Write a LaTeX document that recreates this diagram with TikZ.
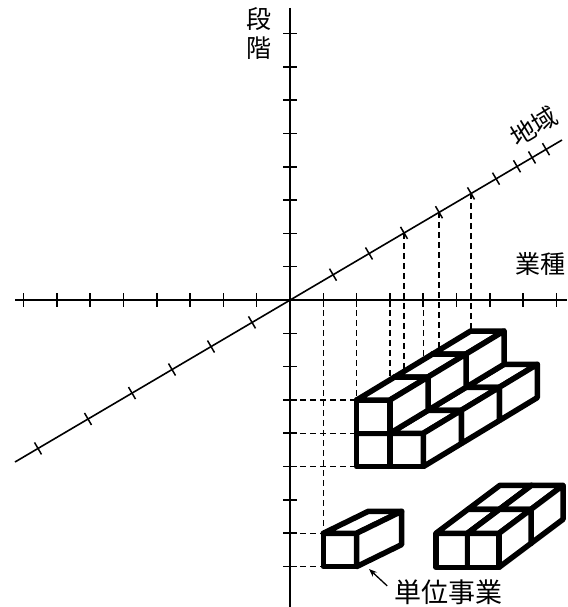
\documentclass[tikz,border=0pt]{standalone}
\usepackage{fontspec}
\newfontfamily\cjk{Noto Sans CJK JP}
\usepackage{tikz}
\usetikzlibrary{arrows.meta}

\tikzset{
  axisline/.style={line width=1.6pt},
  tickmark/.style={line width=1.5pt},
  guide/.style={line width=1.3pt, dash pattern=on 6pt off 4pt},
  brickline/.style={line width=5.5pt, line join=round, fill=white, draw=black},
  axislabel/.style={font=\cjk\fontsize{25}{29}\selectfont, inner sep=0pt},
}

% one block: front corner x, y, width, height, depth dx, dy
\newcommand{\brick}[6]{%
  \filldraw[brickline] (#1,#2) rectangle ++(#3,#4);
  \filldraw[brickline] (#1,#2) -- ++(#5,#6) -- ++(#3,0) -- ++({-1*(#5)},{-1*(#6)}) -- cycle;
  \filldraw[brickline] ({#1+#3},#2) -- ++(#5,#6) -- ++(0,#4) -- ++({-1*(#5)},{-1*(#6)}) -- cycle;
}

\begin{document}
\begin{tikzpicture}[x=1pt,y=-1pt]
\useasboundingbox (0,0) rectangle (567,607);

% axes
\draw[axisline] (290,8) -- (290,607);
\draw[axisline] (15,300) -- (567,300);
\draw[axisline] (15,462) -- (562,140);

% ticks
\foreach \k in {1,...,8} {
  \draw[tickmark] ({290+33.3*\k},293) -- ++(0,14);
  \draw[tickmark] ({290-33.3*\k},293) -- ++(0,14);
  \draw[tickmark] (283,{300+33.3*\k}) -- ++(14,0);
  \draw[tickmark] (283,{300-33.3*\k}) -- ++(14,0);
}
\foreach \t in {38,88,132,172,211,252,333,369,404,439,471,496,517,532,546}
  \draw[tickmark] ({\t-3.5},{300-0.589*(\t-290)-6}) -- ++(7,12);

% guide lines
\foreach \gx/\gy in {323.3/533.3,356.7/400,390/400,423.3/420}
  \draw[guide] (\gx,300) -- (\gx,\gy);
\foreach \gx in {404,439,471}
  \draw[guide] (\gx,{300-0.589*(\gx-290)}) -- (\gx,420);
\foreach \gy in {400,433.3,466.7}
  \draw[guide] (290,\gy) -- (356.7,\gy);
\foreach \gy in {533.3,566.7}
  \draw[guide] (290,\gy) -- (323.3,\gy);

% stacked blocks
\foreach \z in {2,1,0} {
  \brick{356.7+38*\z}{433.3-23*\z}{33.3}{33.3}{38}{-23}
  \brick{390+38*\z}{433.3-23*\z}{33.3}{33.3}{38}{-23}
  \brick{356.7+38*\z}{400-23*\z}{33.3}{33.3}{38}{-23}
}

% single block
\brick{323.3}{533.3}{33.3}{33.3}{45}{-22}

% pair of blocks
\foreach \z in {1,0} {
  \brick{436+32*\z}{533.3-24*\z}{31.5}{34}{32}{-24}
  \brick{467.5+32*\z}{533.3-24*\z}{31.5}{34}{32}{-24}
}

% labels
\node[axislabel, align=center] (stage) at (259,34) {段\\階};
\node[axislabel] (trade) at (540,264) {業種};
\node[axislabel, rotate=31] (region) at (534,126) {地域};
\node[axislabel, font=\cjk\fontsize{27}{30}\selectfont] (unit) at (448,592) {単位事業};
\coordinate (unittip) at (369,569);
\draw[-{Stealth[length=8pt,width=6pt]}, line width=1.3pt, shorten <=9pt] (unit.west) -- (unittip);
\end{tikzpicture}
\end{document}
